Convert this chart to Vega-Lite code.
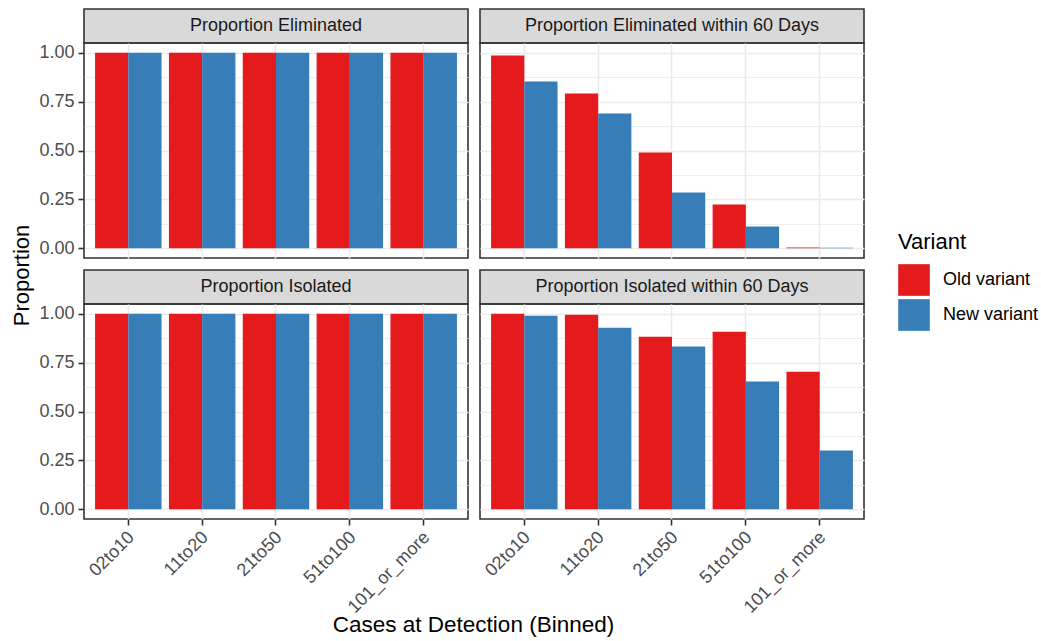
{
  "$schema": "https://vega.github.io/schema/vega-lite/v6.json",
  "padding": {"left": 9, "top": 8, "right": 5, "bottom": 5},
  "bounds": "flush",
  "columns": 2,
  "spacing": {"row": 0, "column": 12},
  "config": {
    "font": "Liberation Sans",
    "view": {"stroke": "#333333", "strokeWidth": 1.6},
    "axis": {
      "domain": false,
      "gridColor": "#ebebeb",
      "gridWidth": 1.6,
      "tickColor": "#333333",
      "tickWidth": 1.6,
      "tickSize": 6,
      "labelColor": "#4d4d4d",
      "labelFontSize": 18,
      "labelFont": "Liberation Sans",
      "titleFont": "Liberation Sans",
      "titleFontSize": 22,
      "titleFontWeight": "normal",
      "titleColor": "#000000"
    },
    "legend": {
      "orient": "none",
      "legendX": 814,
      "legendY": 223,
      "titleFontSize": 22,
      "titleFontWeight": "normal",
      "titleColor": "#000000",
      "titleFont": "Liberation Sans",
      "titlePadding": 10,
      "labelFont": "Liberation Sans",
      "labelFontSize": 18,
      "labelColor": "#000000",
      "labelOffset": 13,
      "symbolType": "square",
      "symbolSize": 1000,
      "symbolStrokeWidth": 0,
      "symbolOpacity": 1,
      "rowPadding": 3
    }
  },
  "datasets": {
    "props": [
      {"measure": "Proportion Eliminated", "bin": "02to10", "variant": "Old variant", "value": 1.0},
      {"measure": "Proportion Eliminated", "bin": "02to10", "variant": "New variant", "value": 1.0},
      {"measure": "Proportion Eliminated", "bin": "11to20", "variant": "Old variant", "value": 1.0},
      {"measure": "Proportion Eliminated", "bin": "11to20", "variant": "New variant", "value": 1.0},
      {"measure": "Proportion Eliminated", "bin": "21to50", "variant": "Old variant", "value": 1.0},
      {"measure": "Proportion Eliminated", "bin": "21to50", "variant": "New variant", "value": 1.0},
      {"measure": "Proportion Eliminated", "bin": "51to100", "variant": "Old variant", "value": 1.0},
      {"measure": "Proportion Eliminated", "bin": "51to100", "variant": "New variant", "value": 1.0},
      {"measure": "Proportion Eliminated", "bin": "101_or_more", "variant": "Old variant", "value": 1.0},
      {"measure": "Proportion Eliminated", "bin": "101_or_more", "variant": "New variant", "value": 1.0},
      {"measure": "Proportion Eliminated within 60 Days", "bin": "02to10", "variant": "Old variant", "value": 0.986},
      {"measure": "Proportion Eliminated within 60 Days", "bin": "02to10", "variant": "New variant", "value": 0.853},
      {"measure": "Proportion Eliminated within 60 Days", "bin": "11to20", "variant": "Old variant", "value": 0.792},
      {"measure": "Proportion Eliminated within 60 Days", "bin": "11to20", "variant": "New variant", "value": 0.689},
      {"measure": "Proportion Eliminated within 60 Days", "bin": "21to50", "variant": "Old variant", "value": 0.490},
      {"measure": "Proportion Eliminated within 60 Days", "bin": "21to50", "variant": "New variant", "value": 0.285},
      {"measure": "Proportion Eliminated within 60 Days", "bin": "51to100", "variant": "Old variant", "value": 0.224},
      {"measure": "Proportion Eliminated within 60 Days", "bin": "51to100", "variant": "New variant", "value": 0.111},
      {"measure": "Proportion Eliminated within 60 Days", "bin": "101_or_more", "variant": "Old variant", "value": 0.004},
      {"measure": "Proportion Eliminated within 60 Days", "bin": "101_or_more", "variant": "New variant", "value": 0.003},
      {"measure": "Proportion Isolated", "bin": "02to10", "variant": "Old variant", "value": 1.0},
      {"measure": "Proportion Isolated", "bin": "02to10", "variant": "New variant", "value": 1.0},
      {"measure": "Proportion Isolated", "bin": "11to20", "variant": "Old variant", "value": 1.0},
      {"measure": "Proportion Isolated", "bin": "11to20", "variant": "New variant", "value": 1.0},
      {"measure": "Proportion Isolated", "bin": "21to50", "variant": "Old variant", "value": 1.0},
      {"measure": "Proportion Isolated", "bin": "21to50", "variant": "New variant", "value": 1.0},
      {"measure": "Proportion Isolated", "bin": "51to100", "variant": "Old variant", "value": 1.0},
      {"measure": "Proportion Isolated", "bin": "51to100", "variant": "New variant", "value": 1.0},
      {"measure": "Proportion Isolated", "bin": "101_or_more", "variant": "Old variant", "value": 1.0},
      {"measure": "Proportion Isolated", "bin": "101_or_more", "variant": "New variant", "value": 1.0},
      {"measure": "Proportion Isolated within 60 Days", "bin": "02to10", "variant": "Old variant", "value": 1.0},
      {"measure": "Proportion Isolated within 60 Days", "bin": "02to10", "variant": "New variant", "value": 0.990},
      {"measure": "Proportion Isolated within 60 Days", "bin": "11to20", "variant": "Old variant", "value": 0.995},
      {"measure": "Proportion Isolated within 60 Days", "bin": "11to20", "variant": "New variant", "value": 0.929},
      {"measure": "Proportion Isolated within 60 Days", "bin": "21to50", "variant": "Old variant", "value": 0.883},
      {"measure": "Proportion Isolated within 60 Days", "bin": "21to50", "variant": "New variant", "value": 0.832},
      {"measure": "Proportion Isolated within 60 Days", "bin": "51to100", "variant": "Old variant", "value": 0.908},
      {"measure": "Proportion Isolated within 60 Days", "bin": "51to100", "variant": "New variant", "value": 0.653},
      {"measure": "Proportion Isolated within 60 Days", "bin": "101_or_more", "variant": "Old variant", "value": 0.704},
      {"measure": "Proportion Isolated within 60 Days", "bin": "101_or_more", "variant": "New variant", "value": 0.301}
    ]
  },
  "concat": [
    {
      "data": {"name": "props"},
      "transform": [
        {"filter": "datum.measure === 'Proportion Eliminated'"},
        {"aggregate": [{"op": "count", "as": "n"}], "groupby": ["measure"]}
      ],
      "width": 384,
      "height": 34,
      "view": {"fill": "#d9d9d9", "stroke": "#333333", "strokeWidth": 1.6},
      "mark": {"type": "text", "fontSize": 18, "color": "#1a1a1a", "font": "Liberation Sans"},
      "encoding": {"text": {"field": "measure"}}
    },
    {
      "data": {"name": "props"},
      "transform": [
        {"filter": "datum.measure === 'Proportion Eliminated within 60 Days'"},
        {"aggregate": [{"op": "count", "as": "n"}], "groupby": ["measure"]}
      ],
      "width": 384,
      "height": 34,
      "view": {"fill": "#d9d9d9", "stroke": "#333333", "strokeWidth": 1.6},
      "mark": {"type": "text", "fontSize": 18, "color": "#1a1a1a", "font": "Liberation Sans"},
      "encoding": {"text": {"field": "measure"}}
    },
    {
      "data": {"name": "props"},
      "transform": [{"filter": "datum.measure === 'Proportion Eliminated'"}],
      "width": 384,
      "height": 215,
      "mark": {"type": "bar"},
      "encoding": {
        "x": {
          "field": "bin", "type": "nominal",
          "sort": ["02to10", "11to20", "21to50", "51to100", "101_or_more"],
          "scale": {"paddingInner": 0.1, "paddingOuter": 0.15},
          "axis": {"bandPosition": 0.5, "grid": true, "labels": false, "ticks": false, "title": null}
        },
        "xOffset": {"field": "variant", "sort": ["Old variant", "New variant"], "scale": {"paddingInner": 0, "paddingOuter": 0}},
        "y": {
          "field": "value", "type": "quantitative",
          "scale": {"domain": [-0.05, 1.05], "nice": false, "zero": false},
          "axis": {
            "values": [0, 0.125, 0.25, 0.375, 0.5, 0.625, 0.75, 0.875, 1],
            "labelExpr": "datum.value % 0.25 === 0 ? format(datum.value, '.2f') : ''",
            "gridWidth": {"condition": {"test": "datum.value % 0.25 !== 0", "value": 0.8}, "value": 1.6},
            "tickOpacity": {"condition": {"test": "datum.value % 0.25 !== 0", "value": 0}, "value": 1},
            "labelPadding": 4,
            "title": "Proportion",
            "titleAngle": -90,
            "titleAlign": "center",
            "titleBaseline": "alphabetic",
            "titleX": -56,
            "titleY": 232
          }
        },
        "y2": {"datum": 0},
        "color": {
          "field": "variant", "type": "nominal", "title": "Variant",
          "sort": ["Old variant", "New variant"],
          "scale": {"domain": ["Old variant", "New variant"], "range": ["#e41a1c", "#377eb8"]}
        }
      }
    },
    {
      "data": {"name": "props"},
      "transform": [{"filter": "datum.measure === 'Proportion Eliminated within 60 Days'"}],
      "width": 384,
      "height": 215,
      "mark": {"type": "bar"},
      "encoding": {
        "x": {
          "field": "bin", "type": "nominal",
          "sort": ["02to10", "11to20", "21to50", "51to100", "101_or_more"],
          "scale": {"paddingInner": 0.1, "paddingOuter": 0.15},
          "axis": {"bandPosition": 0.5, "grid": true, "labels": false, "ticks": false, "title": null}
        },
        "xOffset": {"field": "variant", "sort": ["Old variant", "New variant"], "scale": {"paddingInner": 0, "paddingOuter": 0}},
        "y": {
          "field": "value", "type": "quantitative",
          "scale": {"domain": [-0.05, 1.05], "nice": false, "zero": false},
          "axis": {
            "values": [0, 0.125, 0.25, 0.375, 0.5, 0.625, 0.75, 0.875, 1],
            "labels": false, "ticks": false, "title": null,
            "gridWidth": {"condition": {"test": "datum.value % 0.25 !== 0", "value": 0.8}, "value": 1.6}
          }
        },
        "y2": {"datum": 0},
        "color": {
          "field": "variant", "type": "nominal", "title": "Variant",
          "sort": ["Old variant", "New variant"],
          "scale": {"domain": ["Old variant", "New variant"], "range": ["#e41a1c", "#377eb8"]}
        }
      }
    },
    {
      "data": {"values": []},
      "width": 384,
      "height": 12,
      "view": {"stroke": null},
      "mark": "text",
      "encoding": {}
    },
    {
      "data": {"values": []},
      "width": 384,
      "height": 12,
      "view": {"stroke": null},
      "mark": "text",
      "encoding": {}
    },
    {
      "data": {"name": "props"},
      "transform": [
        {"filter": "datum.measure === 'Proportion Isolated'"},
        {"aggregate": [{"op": "count", "as": "n"}], "groupby": ["measure"]}
      ],
      "width": 384,
      "height": 34,
      "view": {"fill": "#d9d9d9", "stroke": "#333333", "strokeWidth": 1.6},
      "mark": {"type": "text", "fontSize": 18, "color": "#1a1a1a", "font": "Liberation Sans"},
      "encoding": {"text": {"field": "measure"}}
    },
    {
      "data": {"name": "props"},
      "transform": [
        {"filter": "datum.measure === 'Proportion Isolated within 60 Days'"},
        {"aggregate": [{"op": "count", "as": "n"}], "groupby": ["measure"]}
      ],
      "width": 384,
      "height": 34,
      "view": {"fill": "#d9d9d9", "stroke": "#333333", "strokeWidth": 1.6},
      "mark": {"type": "text", "fontSize": 18, "color": "#1a1a1a", "font": "Liberation Sans"},
      "encoding": {"text": {"field": "measure"}}
    },
    {
      "data": {"name": "props"},
      "transform": [{"filter": "datum.measure === 'Proportion Isolated'"}],
      "width": 384,
      "height": 215,
      "mark": {"type": "bar"},
      "encoding": {
        "x": {
          "field": "bin", "type": "nominal",
          "sort": ["02to10", "11to20", "21to50", "51to100", "101_or_more"],
          "scale": {"paddingInner": 0.1, "paddingOuter": 0.15},
          "axis": {
            "bandPosition": 0.5, "grid": true,
            "labelAngle": -45, "labelAlign": "right", "labelBaseline": "top",
            "labelOffset": -3, "labelPadding": 3,
            "title": "Cases at Detection (Binned)",
            "titleFontSize": 22.5,
            "titleAlign": "center",
            "titleBaseline": "alphabetic",
            "titleX": 389,
            "titleY": 112
          }
        },
        "xOffset": {"field": "variant", "sort": ["Old variant", "New variant"], "scale": {"paddingInner": 0, "paddingOuter": 0}},
        "y": {
          "field": "value", "type": "quantitative",
          "scale": {"domain": [-0.05, 1.05], "nice": false, "zero": false},
          "axis": {
            "values": [0, 0.125, 0.25, 0.375, 0.5, 0.625, 0.75, 0.875, 1],
            "labelExpr": "datum.value % 0.25 === 0 ? format(datum.value, '.2f') : ''",
            "gridWidth": {"condition": {"test": "datum.value % 0.25 !== 0", "value": 0.8}, "value": 1.6},
            "tickOpacity": {"condition": {"test": "datum.value % 0.25 !== 0", "value": 0}, "value": 1},
            "labelPadding": 4,
            "title": null
          }
        },
        "y2": {"datum": 0},
        "color": {
          "field": "variant", "type": "nominal", "title": "Variant",
          "sort": ["Old variant", "New variant"],
          "scale": {"domain": ["Old variant", "New variant"], "range": ["#e41a1c", "#377eb8"]}
        }
      }
    },
    {
      "data": {"name": "props"},
      "transform": [{"filter": "datum.measure === 'Proportion Isolated within 60 Days'"}],
      "width": 384,
      "height": 215,
      "mark": {"type": "bar"},
      "encoding": {
        "x": {
          "field": "bin", "type": "nominal",
          "sort": ["02to10", "11to20", "21to50", "51to100", "101_or_more"],
          "scale": {"paddingInner": 0.1, "paddingOuter": 0.15},
          "axis": {
            "bandPosition": 0.5, "grid": true,
            "labelAngle": -45, "labelAlign": "right", "labelBaseline": "top",
            "labelOffset": -3, "labelPadding": 3,
            "title": null
          }
        },
        "xOffset": {"field": "variant", "sort": ["Old variant", "New variant"], "scale": {"paddingInner": 0, "paddingOuter": 0}},
        "y": {
          "field": "value", "type": "quantitative",
          "scale": {"domain": [-0.05, 1.05], "nice": false, "zero": false},
          "axis": {
            "values": [0, 0.125, 0.25, 0.375, 0.5, 0.625, 0.75, 0.875, 1],
            "labels": false, "ticks": false, "title": null,
            "gridWidth": {"condition": {"test": "datum.value % 0.25 !== 0", "value": 0.8}, "value": 1.6}
          }
        },
        "y2": {"datum": 0},
        "color": {
          "field": "variant", "type": "nominal", "title": "Variant",
          "sort": ["Old variant", "New variant"],
          "scale": {"domain": ["Old variant", "New variant"], "range": ["#e41a1c", "#377eb8"]}
        }
      }
    }
  ]
}
